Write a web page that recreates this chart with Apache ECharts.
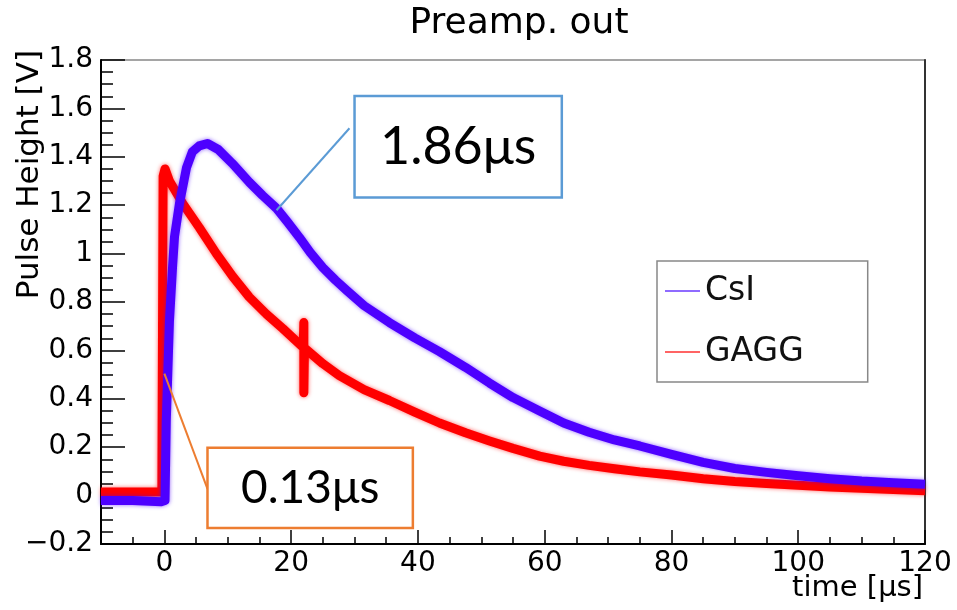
<!DOCTYPE html>
<html><head><meta charset="utf-8">
<script src="https://cdn.jsdelivr.net/npm/echarts@6/dist/echarts.min.js"></script>
<style>html,body{margin:0;padding:0;background:#fff}#c{width:957px;height:610px}</style>
</head><body><div id="c"></div>
<script>
// ---- data ----
const csiTime  = [-10, -5, -0.5, 0.1, 0.3, 0.8, 1.3, 1.6, 2.4, 3.5, 4.4, 5.5, 6.8, 8.5, 10.7, 13.4, 15.5, 17.7, 19.5, 21.3, 23, 25, 27, 28.8, 31.5, 35.5, 39.5, 43.4, 47.5, 51.3, 55, 59.2, 63, 67, 71, 75, 80, 85, 90, 95, 100, 105, 110, 115, 120];
const csiValue = [-0.02, -0.02, -0.025, -0.02, 0.31, 0.72, 0.95, 1.07, 1.21, 1.356, 1.42, 1.445, 1.455, 1.43, 1.373, 1.295, 1.24, 1.187, 1.128, 1.067, 1.005, 0.942, 0.89, 0.847, 0.785, 0.715, 0.652, 0.595, 0.53, 0.465, 0.405, 0.35, 0.30, 0.262, 0.23, 0.205, 0.17, 0.137, 0.112, 0.096, 0.082, 0.07, 0.06, 0.053, 0.047];
const gaggTime  = [-10, -5, -0.4, -0.2, 0.1, 0.8, 2.9, 5.5, 8.2, 10.8, 13.4, 16.1, 18.7, 21.9, 22, 22, 22.1, 25, 27.6, 31.5, 35.5, 39.5, 43.4, 47.5, 51.3, 55, 59.2, 63, 67, 71, 75, 80, 85, 90, 95, 100, 105, 110, 115, 120];
const gaggValue = [0.015, 0.015, 0.015, 1.32, 1.35, 1.30, 1.207, 1.108, 1.0, 0.905, 0.82, 0.75, 0.69, 0.612, 0.715, 0.425, 0.61, 0.545, 0.496, 0.438, 0.393, 0.345, 0.30, 0.26, 0.226, 0.195, 0.163, 0.142, 0.125, 0.111, 0.098, 0.085, 0.07, 0.058, 0.05, 0.043, 0.036, 0.03, 0.025, 0.02];
const seriesNames = ['CsI', 'GAGG'];
const xMajorTicks = [0, 20, 40, 60, 80, 100, 120];
const chartTitle = 'Preamp. out';
const xTitle = 'time [μs]';
const yTitle = 'Pulse Height [V]';
const calloutTexts = ['1.86μs', '0.13μs'];

// ---- styling / layout ----
const F = 'DejaVu Sans';
const zip = (a, b) => a.map((v, i) => [v, b[i]]);
const tickStyle = { color: '#000', width: 1.5 };

const option = {
  animation: false,
  backgroundColor: '#fff',
  title: {
    text: chartTitle, left: 514, top: 1, textAlign: 'center',
    textStyle: { fontFamily: F, fontSize: 36, fontWeight: 'normal', color: '#000' }
  },
  grid: {
    left: 101, top: 60, right: 32, bottom: 66,
    show: true, borderColor: '#888', borderWidth: 1.5, backgroundColor: 'transparent',
    containLabel: false, outerBoundsMode: 'none'
  },
  legend: {
    orient: 'vertical', left: 657, top: 261,
    padding: [12, 64, 12, 8], itemGap: 25, itemWidth: 35, itemHeight: 2, icon: 'rect',
    borderColor: '#888', borderWidth: 1.5, backgroundColor: '#fff',
    textStyle: { fontFamily: F, fontSize: 33, color: '#111', lineHeight: 36 },
    data: [
      { name: seriesNames[0], itemStyle: { color: '#8f6bff' } },
      { name: seriesNames[1], itemStyle: { color: '#ff6464' } }
    ]
  },
  xAxis: [
    {
      type: 'value', min: -10, max: 120, position: 'bottom',
      axisLine: { show: true, onZero: false, lineStyle: { color: '#000', width: 2 } },
      axisTick: { show: true, inside: true, length: 14, customValues: xMajorTicks, lineStyle: tickStyle },
      axisLabel: { customValues: xMajorTicks, margin: 6, color: '#000', fontFamily: F, fontSize: 28 },
      splitLine: { show: false }
    },
    {
      type: 'value', min: -10, max: 120, interval: 5, position: 'bottom',
      axisLine: { show: false, onZero: false },
      axisTick: { show: true, inside: true, length: 7, lineStyle: tickStyle },
      axisLabel: { show: false }, splitLine: { show: false }
    }
  ],
  yAxis: [
    {
      type: 'value', min: -0.2, max: 1.8, interval: 0.2, position: 'left',
      axisLine: { show: true, onZero: false, lineStyle: { color: '#000', width: 2 } },
      axisTick: { show: true, inside: true, length: 24, lineStyle: tickStyle },
      minorTick: { show: true, splitNumber: 4, length: 12, lineStyle: tickStyle },
      axisLabel: {
        margin: 8, color: '#000', fontFamily: F, fontSize: 28,
        formatter: v => String(Math.round(v * 100) / 100).replace('-', '\u2212')
      },
      splitLine: { show: false }, minorSplitLine: { show: false }
    },
    {
      type: 'value', min: -0.2, max: 1.8, position: 'right',
      axisLine: { show: true, onZero: false, lineStyle: { color: '#333', width: 2 } },
      axisTick: { show: false }, axisLabel: { show: false }, splitLine: { show: false }
    }
  ],
  series: [
    {
      type: 'line', name: seriesNames[1], data: zip(gaggTime, gaggValue),
      symbol: 'none', showSymbol: false, z: 2,
      lineStyle: { color: '#ff0000', width: 9, join: 'round', shadowColor: 'rgba(255,0,0,0.6)', shadowBlur: 4 },
      itemStyle: { color: '#ff0000' }
    },
    {
      type: 'line', name: seriesNames[0], data: zip(csiTime, csiValue),
      symbol: 'none', showSymbol: false, z: 3,
      lineStyle: { color: '#4d00ff', width: 9, join: 'round', shadowColor: 'rgba(77,0,255,0.6)', shadowBlur: 4 },
      itemStyle: { color: '#4d00ff' }
    }
  ]
};

const chart = echarts.init(document.getElementById('c'), null, { renderer: 'canvas' });
chart.setOption(option);

// axis titles and call-out annotations
const px = (t, v) => chart.convertToPixel({ xAxisIndex: 0, yAxisIndex: 0 }, [t, v]);
const topLeft = px(-10, 1.8), botRight = px(120, -0.2);
const graphics = [
  { type: 'text', z: 50, x: topLeft[0] - 71, y: topLeft[1] - 10, rotation: Math.PI / 2,
    style: { text: yTitle, align: 'right', verticalAlign: 'middle', fontFamily: F, fontSize: 31, fill: '#000' } },
  { type: 'text', z: 50, x: botRight[0] - 2, y: botRight[1] + 44,
    style: { text: xTitle, align: 'right', verticalAlign: 'middle', fontFamily: F, fontSize: 29, fill: '#000' } }
];
const callouts = [
  { text: calloutTexts[0], color: '#5B9BD5', box: [30.0, 1.651, 62.7, 1.232], from: [29.2, 1.518], to: [17.7, 1.179], fontSize: 52 },
  { text: calloutTexts[1], color: '#ED7D31', box: [6.8, 0.198, 39.2, -0.134], from: [6.8, 0.028], to: [0.0, 0.504], fontSize: 46 }
];
callouts.forEach(c => {
  const a = px(c.box[0], c.box[1]), b = px(c.box[2], c.box[3]);
  const f = px(c.from[0], c.from[1]), t = px(c.to[0], c.to[1]);
  graphics.push({ type: 'line', z: 100, shape: { x1: f[0], y1: f[1], x2: t[0], y2: t[1] }, style: { stroke: c.color, lineWidth: 2 } });
  graphics.push({ type: 'rect', z: 100, shape: { x: a[0], y: a[1], width: b[0] - a[0], height: b[1] - a[1] }, style: { fill: '#fff', stroke: c.color, lineWidth: 2.5 } });
  graphics.push({ type: 'text', z: 101, style: { text: c.text, x: (a[0] + b[0]) / 2, y: (a[1] + b[1]) / 2, align: 'center', verticalAlign: 'middle', fontFamily: 'Lato, "Open Sans", sans-serif', fontSize: c.fontSize, fill: '#000' } });
});
chart.setOption({ graphic: graphics });
</script>
</body></html>
